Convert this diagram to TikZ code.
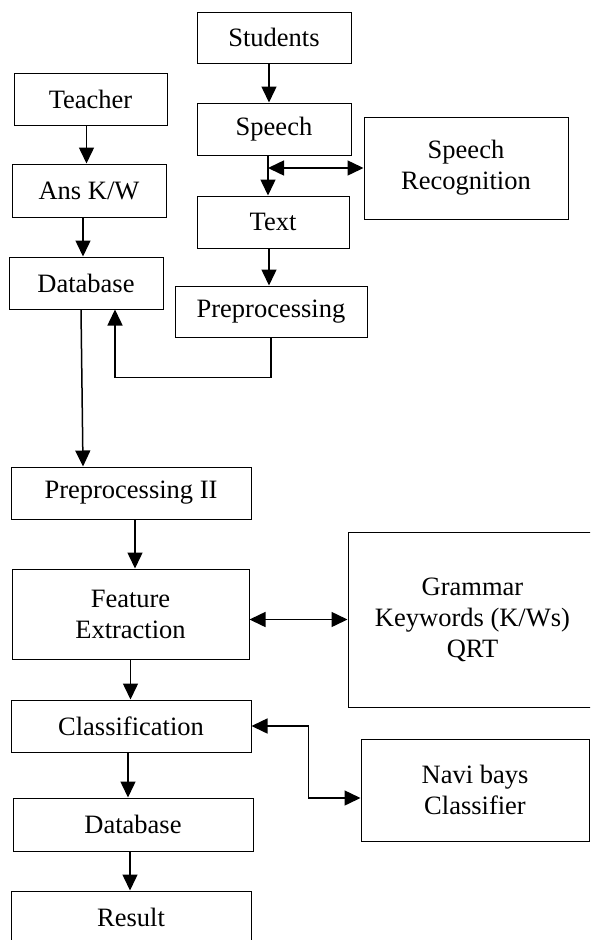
\documentclass[tikz,border=0pt]{standalone}
\usepackage{fontspec}
\setmainfont{Liberation Serif}
\usetikzlibrary{arrows.meta}
\tikzset{
  box/.style={draw, line width=1pt, align=center, inner sep=0pt,
    font=\fontsize{26.5}{31}\selectfont},
  arr/.style={line width=1.5pt, -{Triangle[length=16pt,width=15pt]}},
  dbl/.style={line width=1.5pt, {Triangle[length=16pt,width=15pt]}-{Triangle[length=16pt,width=15pt]}},
}
\begin{document}
\begin{tikzpicture}[x=1pt,y=1pt]
    \clip (0,0) rectangle (590,-940);
    \useasboundingbox (0,0) rectangle (590,-940);
    % student side
    \node[box, minimum width=154pt, minimum height=51pt] (students) at (274,-37.5) {Students};
    \node[box, minimum width=154pt, minimum height=52pt] (speech) at (274,-129) {Speech};
    \node[box, minimum width=204pt, minimum height=102pt] (speechrec) at (466,-168) {Speech\\Recognition};
    \node[box, minimum width=152pt, minimum height=52pt] (text) at (273,-222) {Text};
    \node[box, minimum width=192pt, minimum height=51pt] (prep) at (271,-311.5) {Preprocessing};
    % teacher side
    \node[box, minimum width=153pt, minimum height=52pt] (teacher) at (90.5,-99) {Teacher};
    \node[box, minimum width=154pt, minimum height=53pt] (anskw) at (89,-190.5) {Ans K/W};
    \node[box, minimum width=154pt, minimum height=52pt] (db1) at (86,-283) {Database};
    % lower chain
    \node[box, minimum width=240pt, minimum height=52pt] (prep2) at (131,-493) {Preprocessing II};
    \node[box, minimum width=237pt, minimum height=90pt] (feat) at (130.5,-614) {Feature\\Extraction};
    \node[box, minimum width=249pt, minimum height=175pt] (gram) at (472.5,-619.5) {Grammar\\Keywords (K/Ws)\\QRT};
    \node[box, minimum width=228pt, minimum height=102pt] (navi) at (475,-790) {Navi bays\\Classifier};
    \node[box, minimum width=240pt, minimum height=52pt] (classif) at (131,-726) {Classification};
    \node[box, minimum width=240pt, minimum height=53pt] (db2) at (133,-824.5) {Database};
    \node[box, minimum width=240pt, minimum height=52pt] (result) at (131,-917) {Result};

    \coordinate (st) at ([xshift=-6pt]speech.south);
    \draw[arr] ([xshift=-5pt]students.south) -- ([xshift=-5pt]speech.north);
    \draw[arr] (st) -- (st |- text.north);
    \draw[dbl] (st |- speechrec.west) -- (speechrec.west);
    \draw[arr] ([xshift=-4pt]text.south) -- ([xshift=-4pt]text.south |- prep.north);
    \draw[arr] ([xshift=-4pt]teacher.south) -- ([xshift=-4pt]teacher.south |- anskw.north);
    \draw[arr] ([xshift=-6pt]anskw.south) -- ([xshift=-6pt]anskw.south |- db1.north);
    \draw[arr] (prep.south) -- ++(0,-40) -| ([xshift=29pt]db1.south);
    \draw[arr] ([xshift=-5pt]db1.south) -- ([xshift=-48pt]prep2.north);
    \draw[arr] ([xshift=4pt]prep2.south) -- ([xshift=4pt]prep2.south |- feat.north);
    \draw[dbl] (gram.west -| feat.east) -- (gram.west);
    \draw[arr] (feat.south) -- (feat.south |- classif.north);
    \draw[dbl] (classif.east) -- ++(57,0) |- ([yshift=-8pt]navi.west);
    \draw[arr] ([xshift=-3pt]classif.south) -- ([xshift=-3pt]classif.south |- db2.north);
    \draw[arr] ([xshift=-3pt]db2.south) -- ([xshift=-3pt]db2.south |- result.north);
\end{tikzpicture}
\end{document}
